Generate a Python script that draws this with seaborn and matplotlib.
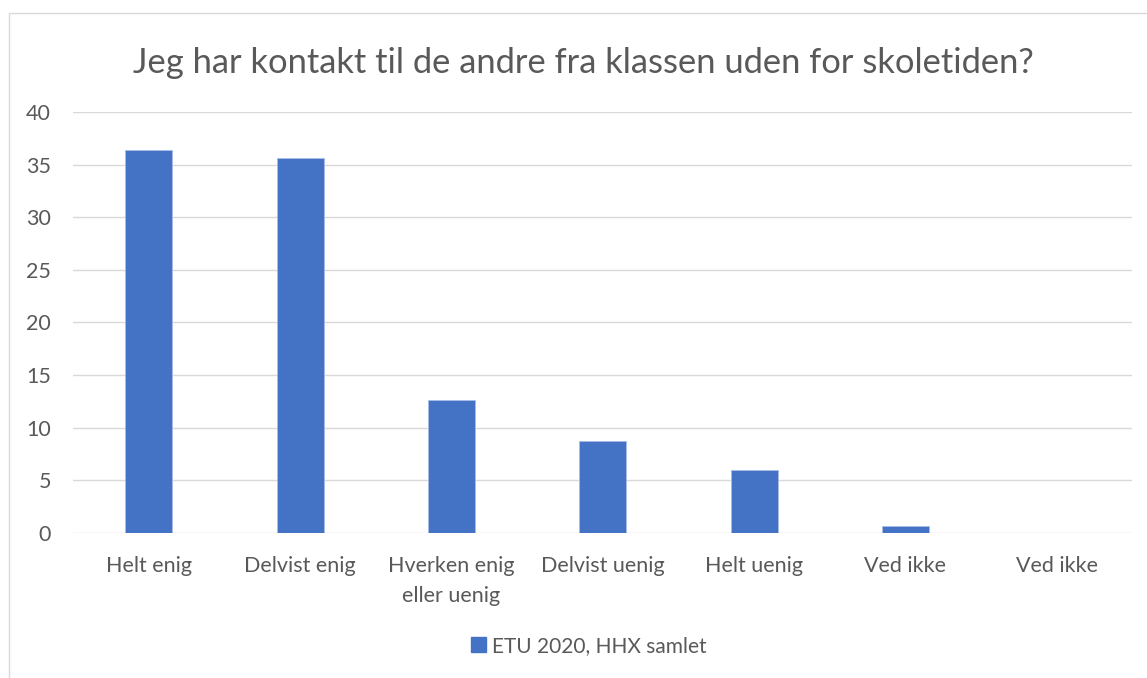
import matplotlib
matplotlib.use("Agg")
import matplotlib.pyplot as plt
import seaborn as sns
import numpy as np
import pandas as pd
from matplotlib.patches import Rectangle, Patch

categories = ["Helt enig", "Delvist enig", "Hverken enig\neller uenig", "Delvist uenig",
              "Helt uenig", "Ved ikke", "Ved ikke"]
values = [36.4, 35.6, 12.6, 8.7, 6.0, 0.6, 0.0]
series_name = "ETU 2020, HHX samlet"
title = "Jeg har kontakt til de andre fra klassen uden for skoletiden?"
yticks = [0, 5, 10, 15, 20, 25, 30, 35, 40]

sns.set_theme(style="white")
plt.rcParams['font.family'] = ['Lato', 'DejaVu Sans']

W, H = 1147, 678
fig = plt.figure(figsize=(W / 100, H / 100), dpi=100)
ax = fig.add_axes([73.3 / W, 1 - 532.7 / H, (1132.3 - 73.3) / W, (532.7 - 112.1) / H])

df = pd.DataFrame({"pos": np.arange(len(values)), "val": values})
sns.barplot(data=df, x="pos", y="val", color="#4472C4", saturation=1, width=0.31,
            ax=ax, label=series_name)
for p in ax.patches:
    p.set_edgecolor("#A9BDE6")
    p.set_linewidth(0.6)

ax.set_xlim(-0.5, len(values) - 0.5)
ax.set_ylim(0, 40)
ax.set_yticks(yticks)
ax.set_yticklabels([str(t) for t in yticks])
ax.set_xticks(np.arange(len(values)))
ax.set_xticklabels(categories)
ax.set_xlabel("")
ax.set_ylabel("")
ax.grid(axis="y", color="#D9D9D9", linewidth=1.0)
ax.set_axisbelow(True)
for s in ax.spines.values():
    s.set_visible(False)
ax.tick_params(axis="y", length=0, pad=16, labelsize=15.5, labelcolor="#595959")
ax.tick_params(axis="x", length=0, pad=17, labelsize=15.5, labelcolor="#595959")
for lab in ax.get_xticklabels():
    lab.set_linespacing(1.6)

# legend
if ax.legend_:
    ax.legend_.remove()
handle = Patch(facecolor="#4472C4", edgecolor="#4472C4")
fig.legend([handle], [series_name], loc="center", bbox_to_anchor=(589 / W, 1 - 646 / H),
           frameon=False, fontsize=15, labelcolor="#595959", handlelength=0.7,
           handleheight=0.7, handletextpad=0.3)

# title fitted to target width
t = fig.text(583.5 / W, 1 - 63 / H, title, ha="center", va="center",
             fontsize=22, color="#595959")
fig.canvas.draw()
wpx = t.get_window_extent().width
t.set_fontsize(22 * 897 / wpx)

# outer chart frame
fig.patches.append(Rectangle((9 / W, -0.05), 1.2, 1 - 13 / H + 0.05, transform=fig.transFigure,
                             fill=False, edgecolor="#D9D9D9", linewidth=1.0))

fig.savefig("out.png", dpi=100, facecolor="white")
